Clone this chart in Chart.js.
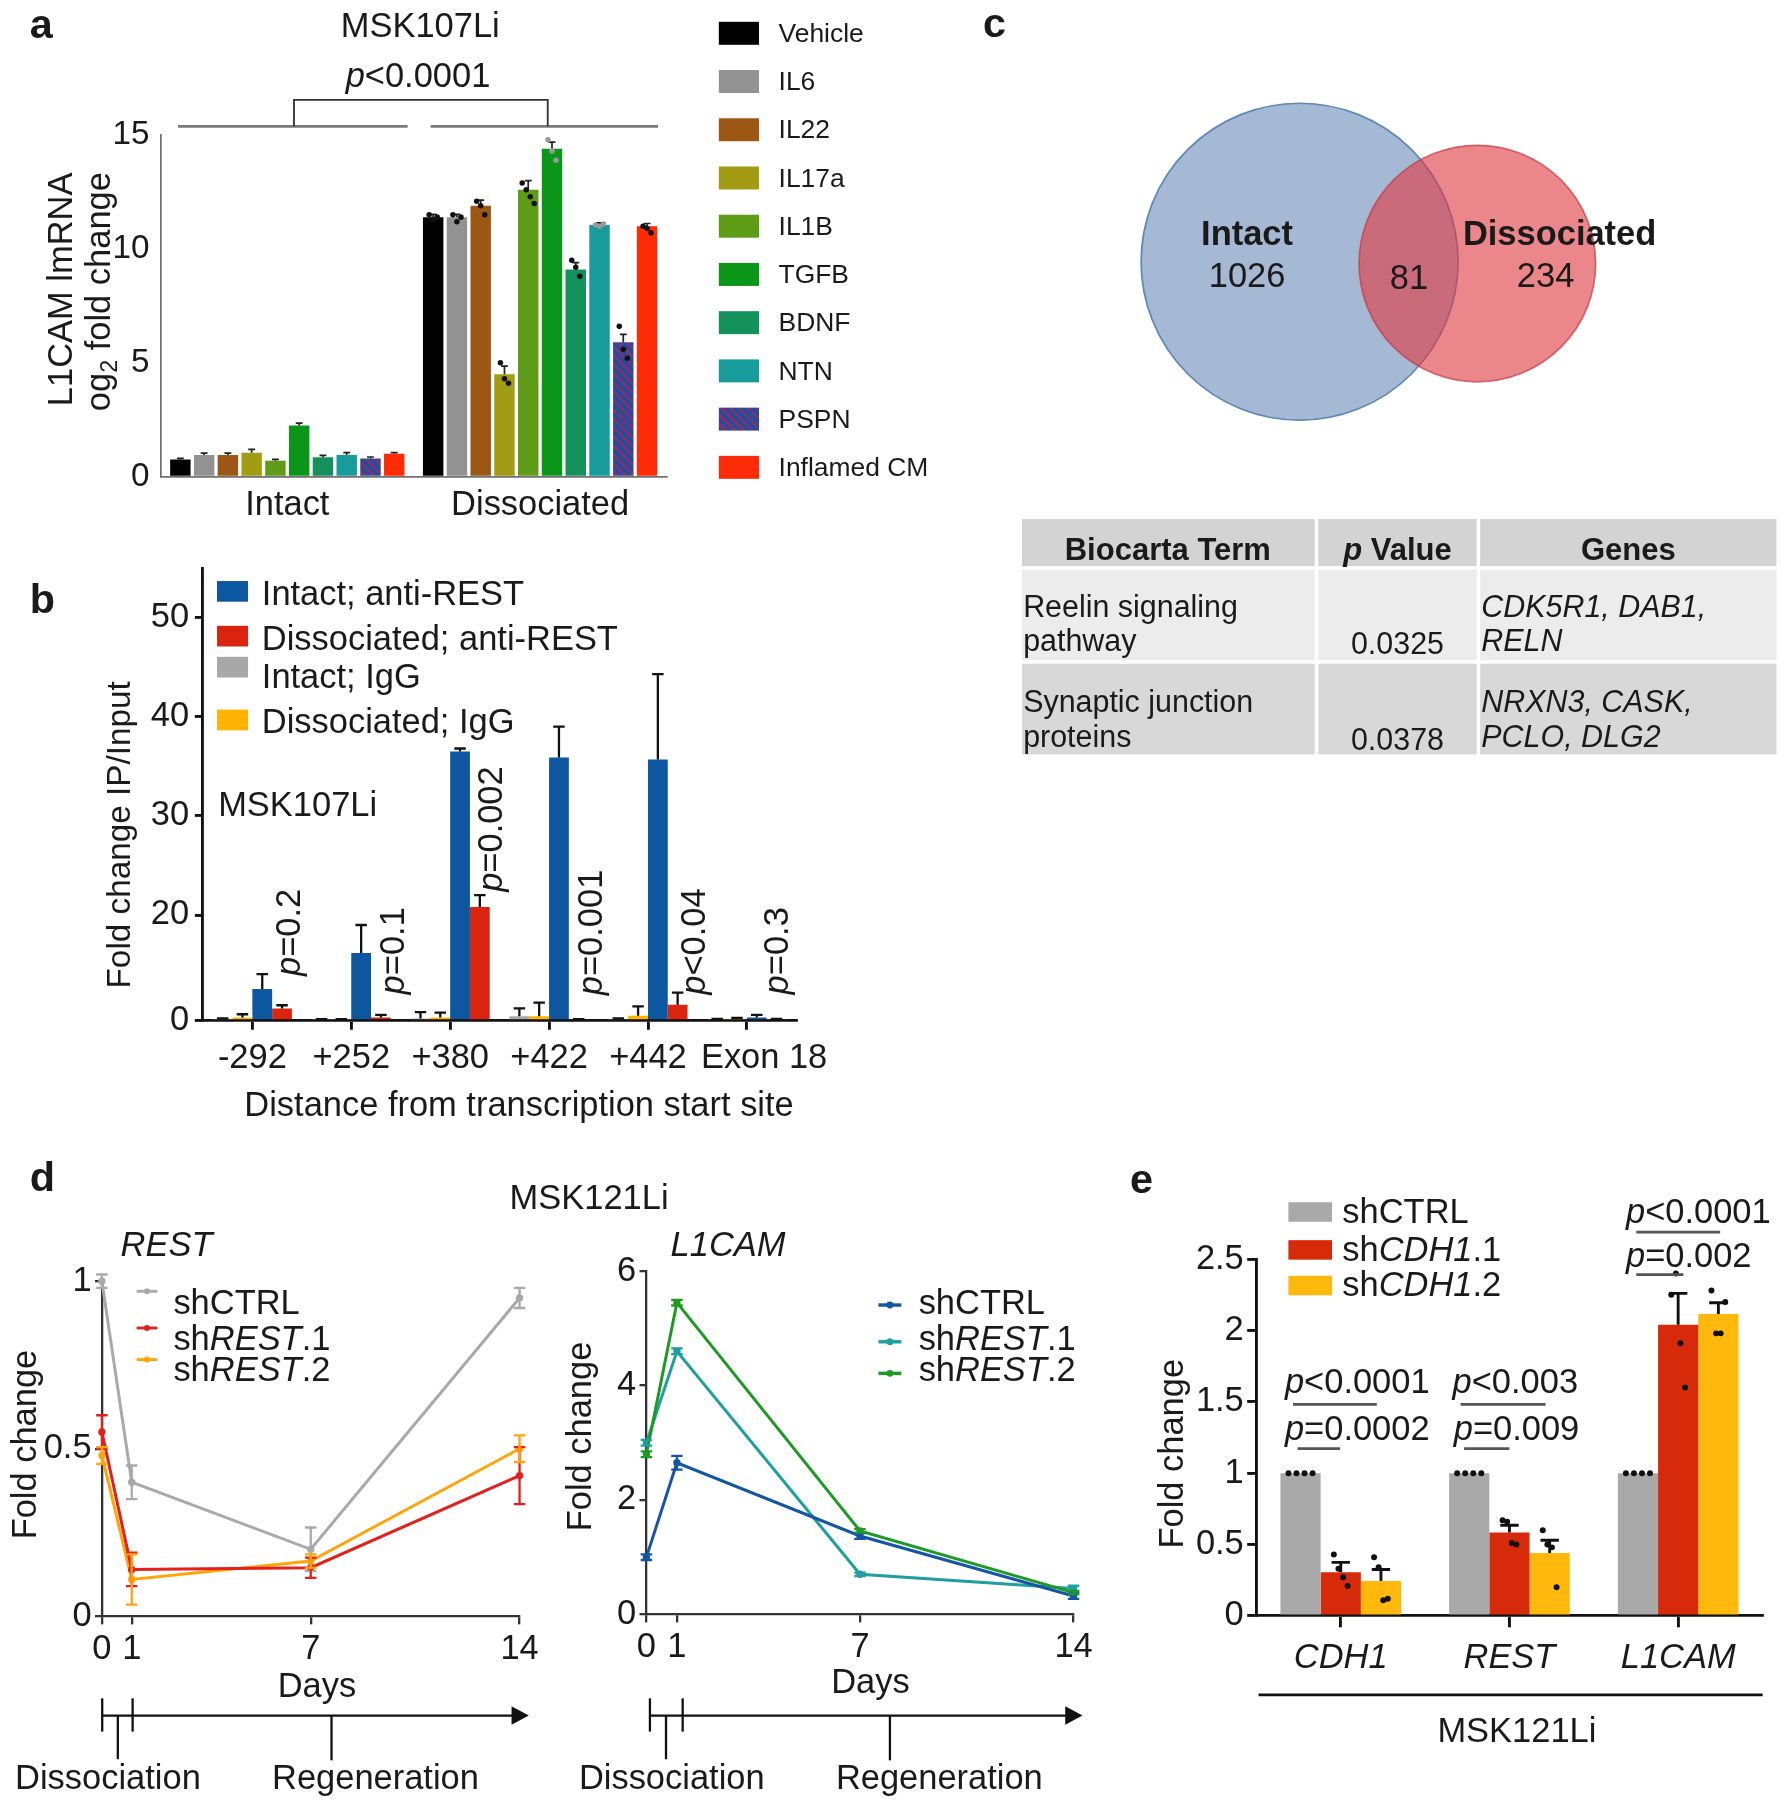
<!DOCTYPE html>
<html>
<head>
<meta charset="utf-8">
<title>L1CAM / REST figure</title>
<script src="https://cdn.jsdelivr.net/npm/chart.js@4.4.1/dist/chart.umd.min.js"></script>
<style>
  html, body { margin: 0; padding: 0; background: #fff; }
  body { position: relative; width: 1781px; height: 1800px; overflow: hidden;
         font-family: "Liberation Sans", Arial, Helvetica, sans-serif; color: #1a1a1a; }
  canvas { position: absolute; z-index: 1; }
  #ov { position: absolute; left: 0; top: 0; width: 1551px; height: 1568px;
        transform: scale(1.148291); transform-origin: 0 0; pointer-events: none; z-index: 2; }
  #ov svg { position: absolute; left: 0; top: 0; }
  .t { position: absolute; white-space: nowrap; line-height: 1; }
  .sw { position: absolute; }
</style>
</head>
<body>
<div id="ov"></div>
<script>
// ---------- a: L1CAM mRNA, log2 fold change (MSK107Li) ----------
const aGroups = ['Intact', 'Dissociated'];
const aTreatments = ['Vehicle', 'IL6', 'IL22', 'IL17a', 'IL1B', 'TGFB', 'BDNF', 'NTN', 'PSPN', 'Inflamed CM'];
const aIntact = [0.75, 0.95, 0.95, 1.05, 0.7, 2.25, 0.85, 0.95, 0.8, 1.0];
const aIntactErr = [0.05, 0.08, 0.08, 0.15, 0.06, 0.1, 0.08, 0.1, 0.06, 0.05];
const aDissociated = [11.4, 11.4, 11.9, 4.5, 12.6, 14.4, 9.1, 11.05, 5.9, 11.0];
const aDissociatedErr = [0.12, 0.12, 0.25, 0.35, 0.4, 0.3, 0.3, 0.1, 0.35, 0.12];
const aDissociatedReps = [
  [11.5, 11.3, 11.4], [11.5, 11.2, 11.4], [12.1, 11.9, 11.5], [5.0, 4.3, 4.1], [12.9, 12.6, 12.3, 12.0],
  [14.8, 14.3, 13.9], [9.5, 9.2, 8.8], [11.05, 11.0, 11.1], [6.6, 5.6, 5.2], [11.0, 10.9, 10.7]
];
const aTicks = [0, 5, 10, 15];

// ---------- b: ChIP, fold change IP/Input ----------
const bSites = ['-292', '+252', '+380', '+422', '+442', 'Exon 18'];
const bSeries = ['Intact; anti-REST', 'Dissociated; anti-REST', 'Intact; IgG', 'Dissociated; IgG'];
const bIntactRest = [6.0, 12.8, 36.5, 35.9, 35.7, 0.6];
const bIntactRestErr = [2.8, 5.3, 0.3, 3.1, 8.6, 0.5];
const bDissocRest = [2.3, 0.6, 20.8, 0.2, 3.0, 0.2];
const bDissocRestErr = [0.6, 0.5, 1.2, 0.05, 2.3, 0.1];
const bIntactIgG = [0.2, 0.2, 0.4, 0.8, 0.2, 0.2];
const bIntactIgGErr = [0.2, 0.05, 1.2, 1.5, 0.2, 0.1];
const bDissocIgG = [0.6, 0.2, 0.6, 0.8, 0.9, 0.3];
const bDissocIgGErr = [0.6, 0.05, 0.9, 2.6, 1.8, 0.2];
const bPValues = ['=0.2', '=0.1', '=0.002', '=0.001', '<0.04', '=0.3'];
const bTicks = [0, 20, 30, 40, 50];

// ---------- c: Venn counts and Biocarta table ----------
const vennSets = ['Intact', 'Dissociated'];
const vennCounts = [1026, 81, 234]; // intact only, shared, dissociated only
const tableHead = ['Biocarta Term', 'Value', 'Genes'];
const tableTerms = [['Reelin signaling', 'pathway'], ['Synaptic junction', 'proteins']];
const tablePValues = ['0.0325', '0.0378'];
const tableGenes = [['CDK5R1, DAB1,', 'RELN'], ['NRXN3, CASK,', 'PCLO, DLG2']];

// ---------- d: time course (MSK121Li) ----------
const dDays = [0, 1, 7, 14];
const dSeries = ['shCTRL', 'shREST.1', 'shREST.2'];
const restCTRL = [1.0, 0.40, 0.20, 0.95];
const restCTRLErr = [0.02, 0.05, 0.065, 0.03];
const restSh1 = [0.55, 0.14, 0.145, 0.42];
const restSh1Err = [0.05, 0.05, 0.03, 0.085];
const restSh2 = [0.48, 0.11, 0.165, 0.50];
const restSh2Err = [0.025, 0.075, 0.02, 0.04];
const l1camCTRL = [1.0, 2.65, 1.37, 0.32];
const l1camCTRLErr = [0.05, 0.12, 0.05, 0.05];
const l1camSh1 = [3.0, 4.6, 0.7, 0.45];
const l1camSh1Err = [0.05, 0.05, 0.03, 0.05];
const l1camSh2 = [2.8, 5.45, 1.46, 0.38];
const l1camSh2Err = [0.05, 0.05, 0.03, 0.03];
const restTicks = [0, 0.5, 1];
const l1camTicks = [0, 2, 4, 6];

// ---------- e: shCDH1 knockdown (MSK121Li) ----------
const eGenes = ['CDH1', 'REST', 'L1CAM'];
const eSeries = ['shCTRL', 'shCDH1.1', 'shCDH1.2'];
const eCTRL = [1, 1, 1];
const eSh1 = [0.305, 0.585, 2.04];
const eSh1Err = [0.07, 0.05, 0.22];
const eSh2 = [0.245, 0.44, 2.115];
const eSh2Err = [0.08, 0.09, 0.08];
const eRepsCTRL = [[1, 1, 1, 1], [1, 1, 1, 1], [1, 1, 1, 1]];
const eRepsSh1 = [[0.43, 0.33, 0.27, 0.21], [0.67, 0.66, 0.51, 0.50], [2.25, 2.4, 1.91, 1.6]];
const eRepsSh2 = [[0.41, 0.34, 0.11, 0.12], [0.6, 0.5, 0.48, 0.2], [2.28, 1.98, 1.98, 2.2]];
const eTicks = [0, 0.5, 1, 1.5, 2, 2.5];

// ---------- setup ----------
const K = 1781 / 1551;
Chart.defaults.font.family = '"Liberation Sans", Arial, Helvetica, sans-serif';
Chart.defaults.color = '#1a1a1a';
Chart.defaults.animation = false;
Chart.defaults.responsive = false;
Chart.defaults.events = [];
Chart.defaults.layout.autoPadding = false;
Chart.defaults.plugins.legend.display = false;
Chart.defaults.plugins.tooltip.enabled = false;

// linear axis with a compressed lower segment (panel b)
const Lin = Chart.LinearScale;
class SplitScale extends Lin {
  static id = 'split';
  getPixelForValue(v) {
    const b = this.options.splitAt, f = this.options.splitFrac;
    const t = v <= b ? (v - this.min) / (b - this.min) * f : f + (v - b) / (this.max - b) * (1 - f);
    return this.bottom - t * (this.bottom - this.top);
  }
  getValueForPixel(p) {
    const b = this.options.splitAt, f = this.options.splitFrac;
    const t = (this.bottom - p) / (this.bottom - this.top);
    return t <= f ? this.min + t / f * (b - this.min) : b + (t - f) / (1 - f) * (this.max - b);
  }
}
Chart.register(SplitScale);

// error bars + replicate dots
const errorBars = {
  id: 'errorBars',
  afterDatasetsDraw(chart) {
    const ctx = chart.ctx, ys = chart.scales.y;
    chart.data.datasets.forEach((ds, i) => {
      const meta = chart.getDatasetMeta(i);
      ctx.save();
      if (ds.err) {
        ctx.strokeStyle = ds.errColor || '#111';
        ctx.lineWidth = (ds.errWidth || 2) * K;
        meta.data.forEach((el, j) => {
          const d = ds.data[j], v = typeof d === 'object' ? d.y : d, e = ds.err[j];
          const top = ys.getPixelForValue(v + e);
          const bot = ys.getPixelForValue(ds.errBoth ? v - e : v);
          const cw = (ds.capW || 5) * K;
          ctx.beginPath();
          ctx.moveTo(el.x, bot); ctx.lineTo(el.x, top);
          ctx.moveTo(el.x - cw, top); ctx.lineTo(el.x + cw, top);
          if (ds.errBoth) { ctx.moveTo(el.x - cw, bot); ctx.lineTo(el.x + cw, bot); }
          ctx.stroke();
        });
      }
      if (ds.reps) {
        ctx.fillStyle = ds.repColor || '#111';
        meta.data.forEach((el, j) => {
          const r = ds.reps[j] || [], gap = (ds.repGap || 5) * K;
          r.forEach((v, k) => {
            ctx.beginPath();
            ctx.arc(el.x + (k - (r.length - 1) / 2) * gap, ys.getPixelForValue(v), (ds.repR || 2.6) * K, 0, Math.PI * 2);
            ctx.fill();
          });
        });
      }
      ctx.restore();
    });
  }
};

function frame(L, T, R, B, ml, mt, mr, mb) {
  const c = document.createElement('canvas');
  const w = Math.round((R - L + ml + mr) * K), h = Math.round((B - T + mt + mb) * K);
  c.width = w; c.height = h;
  c.style.left = ((L - ml) * K) + 'px';
  c.style.top = ((T - mt) * K) + 'px';
  c.style.width = w + 'px'; c.style.height = h + 'px';
  document.body.appendChild(c);
  return { canvas: c, pad: { left: 0, top: mt * K, right: mr * K, bottom: 0 }, yw: ml * K, xh: mb * K };
}

function scaleOpts(f, o, isX) {
  const s = {
    border: { display: true, color: o.color || '#111', width: (o.bw || 2) * K },
    grid: { display: true, drawOnChartArea: false, drawTicks: !!o.tl, tickLength: (o.tl || 0) * K,
            color: o.color || '#111', lineWidth: (o.bw || 2) * K, offset: false },
    ticks: { font: { size: (o.fs || 30) * K, style: o.italic ? 'italic' : 'normal' }, color: '#1a1a1a',
             padding: (o.pad || 0) * K, autoSkip: false, maxRotation: 0, minRotation: 0 },
    afterFit: isX ? (sc => { sc.height = f.xh; }) : (sc => { sc.width = f.yw; })
  };
  if (o.cb) s.ticks.callback = o.cb;
  if (o.type) s.type = o.type;
  if (o.min !== undefined) { s.min = o.min; s.max = o.max; }
  if (o.ticks) s.afterBuildTicks = sc => { sc.ticks = o.ticks.map(v => ({ value: v })); };
  if (o.extra) Object.assign(s, o.extra);
  return s;
}

function pspnPattern() {
  const c = document.createElement('canvas'); c.width = 9; c.height = 9;
  const g = c.getContext('2d');
  g.fillStyle = '#1f4f9c'; g.fillRect(0, 0, 9, 9);
  g.strokeStyle = '#8e2d6e'; g.lineWidth = 2.4;
  g.beginPath();
  g.moveTo(-2, -2); g.lineTo(11, 11);
  g.moveTo(-2, 7); g.lineTo(2, 11);
  g.moveTo(7, -2); g.lineTo(11, 2);
  g.stroke();
  return g.createPattern(c, 'repeat');
}

const aColors = ['#000000', '#929292', '#9b5713', '#a19c14', '#5e9b16', '#0b9619', '#14915a', '#179b9b', '#1f4f9c', '#ff2b06'];
const pspnCss = 'repeating-linear-gradient(45deg, #1f4f9c 0 3.5px, #8e2d6e 3.5px 5.5px)';
const bColors = ['#0d57a0', '#da2410', '#a8a8a8', '#ffb300'];
const dRestColors = ['#a9a9a9', '#e3201b', '#ffa50c'];
const dL1Colors = ['#1456a5', '#1f9fa0', '#1c9a24'];
const eColors = ['#a9a9a9', '#d72a0b', '#ffb80c'];
const num = v => String(v);

// ---------- panel a ----------
const fa = frame(140, 118, 580, 415, 60, 35, 10, 50);
new Chart(fa.canvas, {
  type: 'bar',
  data: {
    labels: aGroups,
    datasets: aTreatments.map((name, i) => ({
      label: name, data: [aIntact[i], aDissociated[i]], err: [aIntactErr[i], aDissociatedErr[i]],
      reps: [[], aDissociatedReps[i]], repGap: 3.5, repR: 2.4,
      repColor: (i === 5 || i === 7) ? '#9a9a9a' : '#111',
      backgroundColor: i === 8 ? pspnPattern() : aColors[i], errColor: '#222', errWidth: 1.5, capW: 3,
      categoryPercentage: 0.94, barPercentage: 0.86
    }))
  },
  options: {
    layout: { padding: fa.pad },
    scales: {
      x: scaleOpts(fa, { color: '#707070', bw: 1.5, tl: 0, pad: 7, fs: 30 }, true),
      y: scaleOpts(fa, { color: '#707070', bw: 1.5, tl: 0, pad: 10, fs: 29, min: 0, max: 15, ticks: aTicks, cb: num }, false)
    }
  },
  plugins: [errorBars]
});

// ---------- panel b ----------
const fb = frame(177, 495, 694, 889, 60, 35, 45, 50);
const bVals = [bIntactIgG, bDissocIgG, bIntactRest, bDissocRest];
const bErrs = [bIntactIgGErr, bDissocIgGErr, bIntactRestErr, bDissocRestErr];
const bOrder = [2, 3, 0, 1]; // bar order inside a group
new Chart(fb.canvas, {
  type: 'bar',
  data: {
    labels: bSites,
    datasets: bOrder.map((s, i) => ({
      label: bSeries[s], data: bVals[i], err: bErrs[i], backgroundColor: bColors[s],
      errColor: '#111', errWidth: 2, capW: 5, categoryPercentage: 0.8, barPercentage: 1.0
    }))
  },
  options: {
    layout: { padding: fb.pad },
    scales: {
      // last label sits a little right of its tick in the original
      x: scaleOpts(fb, { color: '#111', bw: 2.5, tl: 8, pad: 7, fs: 30,
                         cb: (v, i) => (i === bSites.length - 1 ? '\u2002\u2002' : '') + bSites[i] }, true),
      y: scaleOpts(fb, { type: 'split', color: '#111', bw: 2.5, tl: 7, pad: 5, fs: 30, min: 0, max: 55,
                         ticks: bTicks, cb: num, extra: { splitAt: 20, splitFrac: 0.2335 } }, false)
    }
  },
  plugins: [errorBars]
});

// ---------- panel c: Venn ----------
const vennCenters = [[0, 0], [154.7, -1.6]];
const vennRadii = [138, 103];
const fc = frame(980, 80, 1410, 380, 0, 0, 0, 0);
new Chart(fc.canvas, {
  type: 'bubble',
  data: {
    datasets: [{
      label: 'Venn',
      data: vennSets.map((s, i) => ({ x: vennCenters[i][0], y: vennCenters[i][1], r: vennRadii[i] * K })),
      backgroundColor: ['#a5b9d4', 'rgba(222,60,66,0.62)'],
      borderColor: ['#5b87b9', 'rgba(200,55,65,0.7)'],
      borderWidth: 1.5 * K, clip: false
    }]
  },
  options: {
    layout: { padding: 0, autoPadding: false },
    scales: {
      x: { type: 'linear', display: false, min: -152, max: 278 },
      y: { type: 'linear', display: false, min: -152, max: 148 }
    }
  }
});

// ---------- panel d ----------
function lineSets(vals, errs, colors, orders) {
  return vals.map((v, i) => ({
    label: dSeries[i], data: dDays.map((d, j) => ({ x: d, y: v[j] })), err: errs[i], errBoth: true,
    errColor: colors[i], errWidth: 2, capW: 5, borderColor: colors[i], backgroundColor: colors[i],
    borderWidth: 2.6 * K, pointRadius: 3.2 * K, pointBorderWidth: 0, tension: 0, clip: false, order: orders[i]
  }));
}
const fd1 = frame(89, 1116, 453, 1408, 60, 35, 30, 45);
new Chart(fd1.canvas, {
  type: 'line',
  data: { datasets: lineSets([restCTRL, restSh1, restSh2], [restCTRLErr, restSh1Err, restSh2Err], dRestColors, [3, 1, 2]) },
  options: {
    layout: { padding: fd1.pad },
    scales: {
      x: scaleOpts(fd1, { type: 'linear', color: '#333', bw: 2, tl: 7, pad: 4, fs: 30, min: 0, max: 14, ticks: dDays, cb: num }, true),
      y: scaleOpts(fd1, { color: '#333', bw: 2, tl: 6, pad: 3, fs: 30, min: 0, max: 1, ticks: restTicks, cb: num }, false)
    }
  },
  plugins: [errorBars]
});
const fd2 = frame(563, 1107, 935, 1406, 50, 35, 30, 45);
new Chart(fd2.canvas, {
  type: 'line',
  data: { datasets: lineSets([l1camCTRL, l1camSh1, l1camSh2], [l1camCTRLErr, l1camSh1Err, l1camSh2Err], dL1Colors, [1, 3, 2]) },
  options: {
    layout: { padding: fd2.pad },
    scales: {
      x: scaleOpts(fd2, { type: 'linear', color: '#333', bw: 2, tl: 7, pad: 4, fs: 30, min: 0, max: 14, ticks: dDays, cb: num }, true),
      y: scaleOpts(fd2, { color: '#333', bw: 2, tl: 6, pad: 3, fs: 30, min: 0, max: 6, ticks: l1camTicks, cb: num }, false)
    }
  },
  plugins: [errorBars]
});

// ---------- panel e ----------
const fe = frame(1094, 1097, 1535, 1408, 70, 35, 10, 55);
const eVals = [eCTRL, eSh1, eSh2];
const eErrs = [null, eSh1Err, eSh2Err];
const eReps = [eRepsCTRL, eRepsSh1, eRepsSh2];
new Chart(fe.canvas, {
  type: 'bar',
  data: {
    labels: eGenes,
    datasets: eSeries.map((s, i) => ({
      label: s, data: eVals[i], err: eErrs[i], reps: eReps[i], repGap: i === 0 ? 7 : 4,
      backgroundColor: eColors[i], errColor: '#111', errWidth: 2.5, capW: 8,
      categoryPercentage: 0.715, barPercentage: 1.0
    }))
  },
  options: {
    layout: { padding: fe.pad },
    scales: {
      x: scaleOpts(fe, { color: '#111', bw: 2.5, tl: 10, pad: 9, fs: 30, italic: true }, true),
      y: scaleOpts(fe, { color: '#111', bw: 2.5, tl: 8, pad: 3, fs: 30, min: 0, max: 2.5, ticks: eTicks, cb: num }, false)
    }
  },
  plugins: [errorBars]
});

// ---------- overlay: text, legends, annotation lines ----------
const ov = document.getElementById('ov');
function put(x, y, html, size, o = {}) {
  const d = document.createElement('div');
  d.className = 't';
  d.innerHTML = html;
  let tf = o.left ? 'translate(0,-50%)' : 'translate(-50%,-50%)';
  if (o.rot) tf = 'translate(-50%,-50%) rotate(-90deg)';
  d.style.cssText = `left:${x}px;top:${y}px;font-size:${size}px;transform:${tf};` +
    (o.bold ? 'font-weight:bold;' : '') + (o.italic ? 'font-style:italic;' : '');
  ov.appendChild(d);
}
function swatch(x, y, w, h, bg) {
  const d = document.createElement('div');
  d.className = 'sw';
  d.style.cssText = `left:${x}px;top:${y}px;width:${w}px;height:${h}px;background:${bg};`;
  ov.appendChild(d);
}
let svg = '';
const ln = (x1, y1, x2, y2, c = '#111', w = 2) => {
  svg += `<line x1="${x1}" y1="${y1}" x2="${x2}" y2="${y2}" stroke="${c}" stroke-width="${w}"/>`;
};
const dot = (x, y, r, c) => { svg += `<circle cx="${x}" cy="${y}" r="${r}" fill="${c}"/>`; };
const shItal = s => s.replace(/^sh([A-Z0-9]+)(\.\d)$/, 'sh<i>$1</i>$2');

// a
put(36, 21, 'a', 36, { bold: true });
put(366, 22, 'MSK107Li', 30);
put(364, 66, '<i>p</i>&lt;0.0001', 30);
ln(155, 110, 355, 110, '#7a7a7a', 2.5);
ln(375, 110, 573, 110, '#7a7a7a', 2.5);
svg += '<polyline points="256,110 256,87 477,87 477,110" fill="none" stroke="#333" stroke-width="1.6"/>';
put(53, 252, 'L1CAM lmRNA', 30, { rot: true });
put(88, 254, 'og<span style="font-size:0.68em;vertical-align:-0.3em">2</span> fold change', 30, { rot: true });
aTreatments.forEach((name, i) => {
  const y = 29 + i * 42;
  swatch(626, y - 10, 35, 20, i === 8 ? pspnCss : aColors[i]);
  put(678, y, name, 23, { left: true });
});

// b
put(37, 522, 'b', 36, { bold: true });
const bSwY = [515, 554, 581, 627], bTxY = [517, 556, 589, 628];
bSeries.forEach((s, i) => {
  swatch(189, bSwY[i] - 9, 27, 18, bColors[i]);
  put(228, bTxY[i], s, 30, { left: true });
});
put(190, 701, 'MSK107Li', 30, { left: true });
const bPX = [251, 342, 427, 514, 604, 676], bPY = [812, 828, 722, 812, 820, 828];
bPValues.forEach((p, i) => put(bPX[i], bPY[i], '<i>p</i>' + p.replace('<', '&lt;'), 30, { rot: true }));
put(104, 727, 'Fold change IP/Input', 29, { rot: true });
put(452, 962, 'Distance from transcription start site', 30);

// c
put(866, 20, 'c', 36, { bold: true });
put(1086, 203, vennSets[0], 30, { bold: true });
put(1086, 240, String(vennCounts[0]), 30);
put(1227, 242, String(vennCounts[1]), 30);
put(1274, 203, vennSets[1], 30, { bold: true, left: true });
put(1346, 240, String(vennCounts[2]), 30);
const cols = [[890, 1145], [1148, 1286], [1289, 1547]];
const rows = [[452, 493, '#d3d3d3'], [496, 575, '#ececec'], [578, 657, '#d8d8d8']];
rows.forEach(r => cols.forEach(c => swatch(c[0], r[0], c[1] - c[0], r[1] - r[0], r[2])));
put(1017, 479, tableHead[0], 27, { bold: true });
put(1217, 479, '<i>p</i> ' + tableHead[1], 27, { bold: true });
put(1418, 479, tableHead[2], 27, { bold: true });
const rowY = [[529, 558, 561], [611, 642, 644]];
tableTerms.forEach((t, i) => {
  put(891, rowY[i][0], t[0], 26.5, { left: true });
  put(891, rowY[i][1], t[1], 26.5, { left: true });
  put(1217, rowY[i][2], tablePValues[i], 26.5);
  put(1290, rowY[i][0], tableGenes[i][0], 26.5, { left: true, italic: true });
  put(1290, rowY[i][1], tableGenes[i][1], 26.5, { left: true, italic: true });
});

// d
put(37, 1025, 'd', 36, { bold: true });
put(513, 1043, 'MSK121Li', 30);
put(145, 1084, 'REST', 30, { italic: true });
put(634, 1084, 'L1CAM', 30, { italic: true });
put(21, 1258, 'Fold change', 30, { rot: true });
put(505, 1251, 'Fold change', 30, { rot: true });
put(276, 1468, 'Days', 30);
put(758, 1464, 'Days', 30);
const dLegY = [1133.5, 1165.5, 1193];
dSeries.forEach((s, i) => {
  put(151, dLegY[i], shItal(s), 30, { left: true });
  ln(119, dLegY[i] - 9, 137, dLegY[i] - 9, dRestColors[i], 2.5); dot(128, dLegY[i] - 9, 2.6, dRestColors[i]);
  put(800, dLegY[i], shItal(s), 30, { left: true });
  ln(765, dLegY[i] + 3, 785, dLegY[i] + 3, dL1Colors[i], 3); dot(775, dLegY[i] + 3, 3, dL1Colors[i]);
});
function timeline(x0, xa, xb, xr, xend) {
  ln(x0, 1494, xend - 10, 1494, '#111', 2);
  svg += `<polygon points="${xend - 15},1486 ${xend},1494 ${xend - 15},1502" fill="#111"/>`;
  ln(x0, 1479, x0, 1508, '#111', 2); ln(xb, 1479, xb, 1508, '#111', 2);
  ln(xa, 1494, xa, 1532, '#111', 2); ln(xr, 1494, xr, 1533, '#111', 2);
}
timeline(89, 102.6, 115.5, 288.7, 460.5);
timeline(566, 580, 594.5, 775, 942.7);
put(94, 1548, 'Dissociation', 30);
put(327, 1548, 'Regeneration', 30);
put(585, 1548, 'Dissociation', 30);
put(818, 1548, 'Regeneration', 30);

// e
put(994, 1027, 'e', 36, { bold: true });
const eLegY = [1055, 1088, 1119];
eSeries.forEach((s, i) => {
  swatch(1122, eLegY[i] - 8.5, 38, 17, eColors[i]);
  put(1169, eLegY[i], shItal(s), 30, { left: true });
});
put(1119, 1203, '<i>p</i>&lt;0.0001', 30, { left: true });
put(1119, 1244, '<i>p</i>=0.0002', 30, { left: true });
put(1265, 1203, '<i>p</i>&lt;0.003', 30, { left: true });
put(1266, 1244, '<i>p</i>=0.009', 30, { left: true });
put(1416, 1055, '<i>p</i>&lt;0.0001', 30, { left: true });
put(1416, 1093, '<i>p</i>=0.002', 30, { left: true });
ln(1126, 1223, 1199, 1223, '#555', 2.5); ln(1130, 1261.5, 1167, 1261.5, '#555', 2.5);
ln(1272, 1223, 1346, 1223, '#555', 2.5); ln(1275, 1261.5, 1314.5, 1261.5, '#555', 2.5);
ln(1425, 1073, 1498, 1073, '#555', 2.5); ln(1425, 1110, 1466, 1110, '#555', 2.5);
ln(1096, 1476, 1535, 1476, '#111', 2.5);
put(1020, 1266, 'Fold change', 30, { rot: true });
put(1321, 1507, 'MSK121Li', 30);

const s = document.createElementNS('http://www.w3.org/2000/svg', 'svg');
s.setAttribute('width', '1551'); s.setAttribute('height', '1568');
s.setAttribute('viewBox', '0 0 1551 1568');
s.innerHTML = svg;
ov.insertBefore(s, ov.firstChild);
</script>
</body>
</html>
